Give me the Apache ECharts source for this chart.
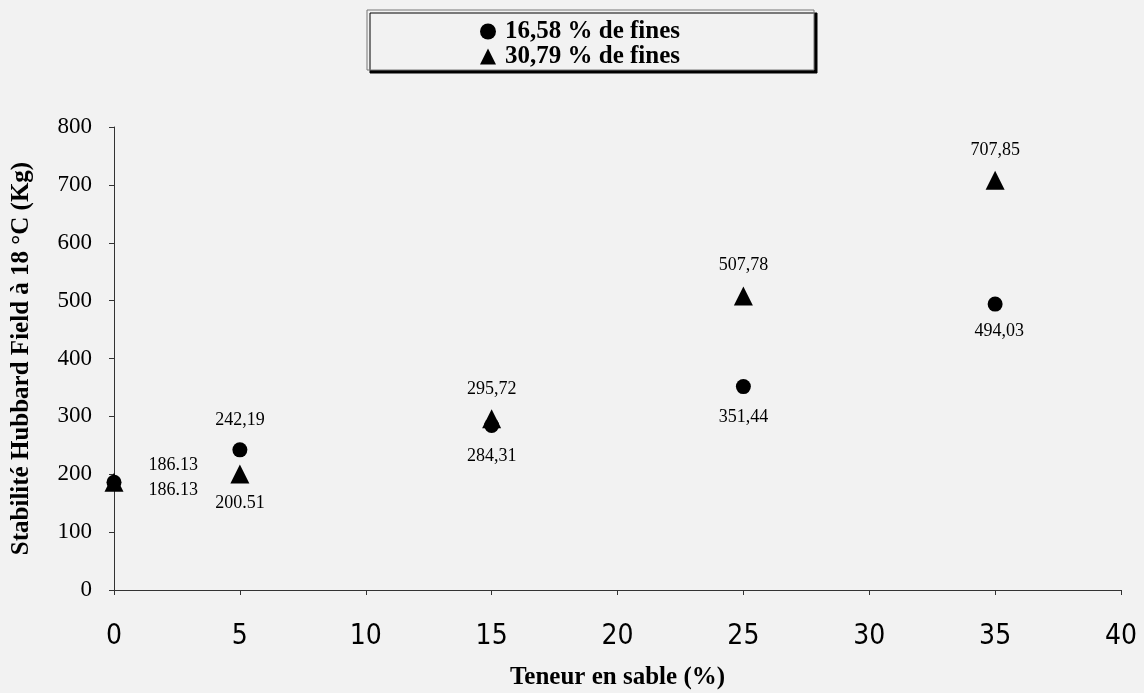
<!DOCTYPE html>
<html>
<head>
<meta charset="utf-8">
<script src="https://cdn.jsdelivr.net/npm/echarts@6/dist/echarts.min.js"></script>
<style>html,body{margin:0;padding:0;background:#f2f2f2;}#c{width:1144px;height:693px;}</style>
</head>
<body>
<div id="c"></div>
<script>
// ---- data ----
const sable = [0, 5, 15, 25, 35];
const fines1658 = [186.13, 242.19, 284.31, 351.44, 494.03];
const fines3079 = [186.13, 200.51, 295.72, 507.78, 707.85];
const labels1658 = ['186.13', '242,19', '284,31', '351,44', '494,03'];
const labels3079 = ['186.13', '200.51', '295,72', '507,78', '707,85'];
const seriesNames = ['16,58 % de fines', '30,79 % de fines'];
const xTicks = [0, 5, 10, 15, 20, 25, 30, 35, 40];
const yTicks = [0, 100, 200, 300, 400, 500, 600, 700, 800];

// ---- label placement (style) ----
const lab1658 = [
  {position: 'right', distance: 27, offset: [0, -17]},
  {position: 'top', distance: 13},
  {position: 'bottom', distance: 14},
  {position: 'bottom', distance: 14},
  {position: 'bottom', distance: 11, offset: [4, 0]}
];
const lab3079 = [
  {position: 'right', distance: 25, offset: [0, 8]},
  {position: 'bottom', distance: 11},
  {position: 'top', distance: 11},
  {position: 'top', distance: 12},
  {position: 'top', distance: 12}
];

const serif = '"Liberation Serif", "Times New Roman", serif';
const labelStyle = {show: true, color: '#000', fontFamily: serif, fontSize: 18};

function build(vals, labs, pos) {
  return sable.map((x, i) => ({
    value: [x, vals[i]],
    label: Object.assign({}, labelStyle, pos[i], {formatter: labs[i]})
  }));
}

const chart = echarts.init(document.getElementById('c'));
chart.setOption({
  backgroundColor: '#f2f2f2',
  animation: false,
  legend: {
    orient: 'vertical',
    left: 367, top: 10,
    padding: [9, 134, 1, 113],
    itemGap: 0,
    itemWidth: 16, itemHeight: 16,
    backgroundColor: '#f2f2f2',
    borderColor: '#777', borderWidth: 1,
    shadowColor: '#000', shadowOffsetX: 3, shadowOffsetY: 3, shadowBlur: 0,
    itemStyle: {opacity: 1},
    textStyle: {fontFamily: serif, fontWeight: 'bold', fontSize: 25, color: '#000', lineHeight: 21, padding: [0,0,0,4]},
    data: seriesNames
  },
  grid: {left: 114, right: 23, top: 127, bottom: 103, containLabel: false, outerBoundsMode: 'none'},
  xAxis: {
    type: 'value', min: 0, max: 40, interval: 5,
    name: 'Teneur en sable (%)', nameLocation: 'middle', nameGap: 75,
    nameTextStyle: {fontFamily: serif, fontWeight: 'bold', fontSize: 25, color: '#000'},
    axisLine: {lineStyle: {color: '#333', width: 1}},
    axisTick: {show: true, length: 5, lineStyle: {color: '#333'}},
    splitLine: {show: false},
    axisLabel: {
      margin: 33, color: '#000', fontSize: 28,
      fontFamily: '"Liberation Sans Narrow", "DejaVu Sans Condensed", "Arial Narrow", sans-serif',
      formatter: v => xTicks.includes(v) ? String(v) : ''
    }
  },
  yAxis: {
    type: 'value', min: 0, max: 800, interval: 100,
    name: 'Stabilité Hubbard Field à 18 °C (Kg)', nameLocation: 'middle', nameGap: 80,
    nameTextStyle: {fontFamily: serif, fontWeight: 'bold', fontSize: 25, color: '#000'},
    axisLine: {show: true, lineStyle: {color: '#333', width: 1}},
    axisTick: {show: true, length: 5, lineStyle: {color: '#333'}},
    splitLine: {show: false},
    axisLabel: {
      margin: 22, color: '#000', fontSize: 23, fontFamily: serif,
      formatter: v => yTicks.includes(v) ? String(v) : ''
    }
  },
  series: [
    {
      name: seriesNames[0], type: 'scatter', symbol: 'circle', symbolSize: 15,
      itemStyle: {color: '#000', opacity: 1},
      data: build(fines1658, labels1658, lab1658)
    },
    {
      name: seriesNames[1], type: 'scatter', symbol: 'triangle', symbolSize: 19,
      itemStyle: {color: '#000', opacity: 1},
      data: build(fines3079, labels3079, lab3079)
    }
  ]
});
</script>
</body>
</html>
